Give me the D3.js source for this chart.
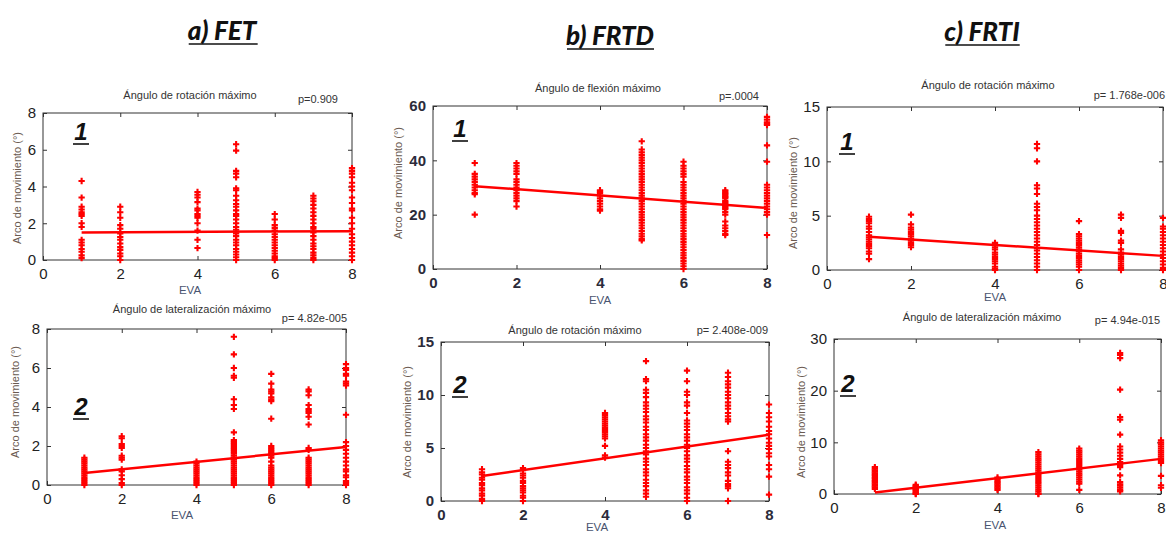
<!DOCTYPE html>
<html>
<head>
<meta charset="utf-8">
<script src="https://cdn.jsdelivr.net/npm/d3@7"></script>
<style>
  body { margin: 0; background: #fff; }
  svg { display: block; }
</style>
</head>
<body>
<svg id="chart" width="1166" height="533"></svg>
<script>
// Pain score levels (EVA) present in the sample
const evaLevels = [1, 2, 4, 5, 6, 7, 8];

// a) FET — maximum rotation angle, one list per EVA level
const fetRotacion = [
  [4.3, 3.4, 2.9, 2.75, 2.6, 2.5, 2.4, 2.0, 1.8, 1.1, 0.95, 0.8, 0.6, 0.45, 0.25, 0.1],
  [2.9, 2.6, 2.3, 1.9, 1.7, 1.45, 1.25, 1.1, 0.9, 0.7, 0.55, 0.35, 0.2, 0],
  [3.7, 3.55, 3.4, 3.15, 2.8, 2.7, 2.5, 2.4, 2.3, 2.0, 1.6, 1.1, 0.65],
  [6.3, 5.95, 4.85, 4.7, 4.5, 3.9, 3.8, 3.5, 3.25, 3.05, 2.9, 2.7, 2.5, 2.4, 2.2, 2.0, 1.8, 1.65, 1.45, 1.3, 1.1, 0.95, 0.8, 0.6, 0.45, 0.3, 0.15, 0],
  [2.5, 2.2, 1.9, 1.75, 1.6, 1.4, 1.25, 1.1, 0.95, 0.8, 0.65, 0.5, 0.35, 0.2, 0.1, 0],
  [3.5, 3.35, 3.2, 3.0, 2.8, 2.6, 2.4, 2.2, 2.0, 1.8, 1.7, 1.5, 1.3, 1.1, 0.9, 0.75, 0.6, 0.4, 0.25, 0.1, 0],
  [5.0, 4.85, 4.7, 4.5, 4.2, 4.0, 3.8, 3.4, 3.1, 2.8, 2.7, 2.3, 2.0, 1.7, 1.4, 1.2, 1.0, 0.8, 0.6, 0.4, 0.2, 0]
];
const fetRotacionFit = [1.50, 1.57];

// a) FET — maximum lateral flexion angle
const fetLateral = [
  [1.4, 1.3, 1.2, 1.1, 1.0, 0.9, 0.8, 0.7, 0.6, 0.5, 0.4, 0.3, 0.2, 0.1, 0],
  [2.5, 2.4, 2.1, 2.0, 1.9, 1.5, 1.4, 1.3, 0.8, 0.7, 0.5, 0.3, 0.1, 0],
  [1.2, 1.1, 1.0, 0.9, 0.8, 0.7, 0.6, 0.5, 0.4, 0.3, 0.2, 0.1, 0],
  [7.6, 6.7, 6.0, 5.6, 5.5, 4.4, 4.1, 3.9, 2.7, 2.3, 2.2, 2.1, 2.0, 1.9, 1.8, 1.7, 1.6, 1.5, 1.4, 1.3, 1.2, 1.1, 1.0, 0.9, 0.8, 0.7, 0.6, 0.5, 0.4, 0.3, 0.2, 0.1, 0],
  [5.7, 5.2, 4.9, 4.8, 4.7, 4.5, 4.4, 4.3, 3.4, 2.0, 1.9, 1.8, 1.7, 1.6, 1.5, 1.4, 1.2, 1.0, 0.9, 0.8, 0.7, 0.6, 0.5, 0.4, 0.3, 0.2, 0.1, 0],
  [4.9, 4.8, 4.6, 4.1, 3.9, 3.8, 3.7, 3.5, 3.1, 1.9, 1.8, 1.4, 1.3, 1.2, 1.1, 1.0, 0.9, 0.8, 0.7, 0.6, 0.5, 0.4, 0.3, 0.2, 0.1, 0],
  [6.2, 6.0, 5.9, 5.7, 5.6, 5.3, 5.2, 5.1, 3.6, 2.2, 2.0, 1.8, 1.6, 1.4, 1.2, 1.0, 0.8, 0.7, 0.5, 0.4, 0.2, 0.1, 0]
];
const fetLateralFit = [0.62, 1.95];

// b) FRTD — maximum flexion angle
const frtdFlexion = [
  [39, 35, 34, 33, 32, 31, 30, 29, 28, 27.5, 20],
  [39, 38, 37, 36, 35, 33, 32, 31, 30, 29, 28, 27, 26, 25, 23],
  [29, 28.5, 28, 27, 26, 25, 24, 23, 22, 21.5],
  [47, 44, 43, 42, 41, 40, 39, 38, 37, 36, 35, 34, 33, 32, 31, 30, 29, 28, 27, 26, 25, 24, 23, 22, 21, 20, 19, 18, 17, 16, 15, 14, 13, 12, 11, 10.5],
  [39.5, 38, 37, 36, 35, 34, 32, 31, 30, 29, 28, 27, 26, 25, 24, 23, 22, 21, 20, 19, 18, 17, 16, 15, 14, 13, 12, 11, 10, 9, 8, 7, 6, 5, 4, 3, 2, 1, 0],
  [29, 28.5, 28, 27.5, 27, 26.5, 26, 25, 24.5, 24, 23.5, 23, 22.5, 22, 21, 20, 17.5, 16, 15, 14, 13, 12.5],
  [56, 55, 54, 53.5, 53, 45.5, 39.5, 31, 30, 29, 28, 27, 26, 25, 24, 23, 22, 21, 20, 12.5]
];
const frtdFlexionFit = [30.5, 22.5];

// b) FRTD — maximum rotation angle
const frtdRotacion = [
  [3.0, 2.7, 2.5, 2.2, 2.0, 1.7, 1.5, 1.2, 1.0, 0.7, 0.5, 0.2, 0],
  [3.1, 2.9, 2.6, 2.4, 2.2, 1.9, 1.7, 1.4, 1.2, 1.0, 0.8, 0.5, 0.3, 0],
  [8.3, 8.1, 7.9, 7.7, 7.5, 7.3, 7.1, 6.9, 6.7, 6.5, 6.3, 6.1, 5.9, 5.2, 4.3, 4.1],
  [13.2, 11.5, 11.3, 10.5, 10.2, 9.8, 9.3, 9.0, 8.7, 8.4, 8.0, 7.7, 7.4, 7.0, 6.7, 6.3, 6.0, 5.7, 5.3, 5.0, 4.7, 4.4, 4.0, 3.7, 3.4, 3.0, 2.7, 2.4, 2.0, 1.7, 1.4, 1.0, 0.7, 0.4],
  [12.3, 11.3, 10.3, 10.0, 9.3, 9.0, 8.3, 7.6, 7.3, 7.0, 6.7, 6.3, 6.0, 5.7, 5.3, 5.0, 4.7, 4.3, 4.0, 3.7, 3.3, 3.0, 2.7, 2.3, 2.0, 1.7, 1.3, 1.0, 0.7, 0.3, 0],
  [12.1, 11.7, 11.3, 11.0, 10.7, 10.3, 10.0, 9.7, 9.3, 9.0, 8.7, 8.3, 8.0, 7.7, 7.5, 4.7, 3.7, 3.4, 3.1, 2.7, 2.4, 1.9, 1.6, 1.4, 1.2, 0],
  [9.1, 8.3, 7.9, 7.5, 7.0, 6.6, 6.3, 5.9, 5.5, 5.2, 4.9, 4.5, 4.2, 3.4, 3.0, 2.3, 0.6]
];
const frtdRotacionFit = [2.35, 6.25];

// c) FRTI — maximum rotation angle
const frtiRotacion = [
  [4.9, 4.7, 4.5, 4.3, 4.0, 3.8, 3.5, 3.2, 3.0, 2.8, 2.6, 2.4, 2.2, 2.0, 1.7, 1.5, 1.0],
  [5.1, 4.2, 3.9, 3.7, 3.5, 3.3, 3.1, 2.9, 2.7, 2.5, 2.3, 2.1],
  [2.5, 2.3, 2.1, 1.9, 1.6, 1.4, 1.2, 1.0, 0.8, 0.6, 0.3, 0.1, 0],
  [11.6, 11.2, 10.0, 7.8, 7.5, 7.0, 6.1, 5.8, 5.5, 5.0, 4.7, 4.4, 4.1, 3.8, 3.5, 3.2, 2.9, 2.6, 2.3, 2.0, 1.8, 1.5, 1.2, 0.9, 0.6, 0.3, 0],
  [4.5, 3.3, 3.1, 2.9, 2.7, 2.5, 2.3, 2.1, 1.9, 1.7, 1.5, 1.3, 1.1, 0.9, 0.7, 0.5, 0.3, 0],
  [5.1, 4.8, 3.6, 3.4, 2.7, 2.5, 1.9, 1.6, 1.4, 1.2, 1.0, 0.8, 0.6, 0.4, 0.2, 0],
  [4.8, 4.0, 3.8, 3.5, 3.2, 2.9, 2.6, 2.3, 2.0, 1.7, 1.4, 1.1, 0.8, 0.5, 0.2, 0]
];
const frtiRotacionFit = [3.05, 1.3];

// c) FRTI — maximum lateral flexion angle
const frtiLateral = [
  [5.2, 4.9, 4.6, 4.3, 4.0, 3.7, 3.4, 3.1, 2.8, 2.5, 2.2, 1.9, 1.6, 1.3, 1.0],
  [1.8, 1.6, 1.4, 1.2, 1.0, 0.8, 0.5, 0.3, 0.1, 0],
  [3.2, 2.9, 2.6, 2.3, 2.0, 1.7, 1.4, 1.1, 0.8],
  [8.1, 7.7, 7.3, 6.9, 6.5, 6.1, 5.7, 5.3, 4.9, 4.5, 4.1, 3.7, 3.3, 2.9, 2.5, 2.1, 1.7, 1.3, 0.9, 0.5, 0.1, 0],
  [8.8, 8.4, 8.0, 7.6, 7.2, 6.8, 6.4, 6.0, 5.6, 5.2, 4.8, 4.4, 4.0, 3.6, 3.2, 2.8, 2.4, 2.0, 0.8],
  [27.3, 26.9, 26.3, 20.2, 14.9, 14.4, 11.5, 9.2, 8.6, 8.0, 7.4, 6.8, 6.2, 5.6, 5.2, 3.6, 2.3, 1.9, 1.6, 1.2, 0.8, 0.5],
  [10.4, 10.0, 9.6, 9.2, 8.8, 8.4, 8.0, 7.6, 7.2, 6.8, 6.4, 6.0, 3.5, 1.7, 1.2]
];
const frtiLateralFit = [0.3, 6.8];

// Shared tick values
const xTickValues = [0, 2, 4, 6, 8];
const yTicksFet = [0, 2, 4, 6, 8];
const yTicksFlexion = [0, 20, 40, 60];
const yTicks15 = [0, 5, 10, 15];
const yTicks30 = [0, 10, 20, 30];

// Group headings and panel texts
const groupHeadings = ["a) FET", "b) FRTD", "c) FRTI"];
const panelTitles = [
  "Ángulo de rotación máximo", "Ángulo de lateralización máximo",
  "Ángulo de flexión máximo", "Ángulo de rotación máximo",
  "Ángulo de rotación máximo", "Ángulo de lateralización máximo"
];
const pLabels = ["p=0.909", "p= 4.82e-005", "p=.0004", "p= 2.408e-009", "p= 1.768e-006", "p= 4.94e-015"];
const panelTags = ["1", "2", "1", "2", "1", "2"];
const xAxisLabel = "EVA";
const yAxisLabel = "Arco de movimiento (°)";

// Panel layout: plot frame, text anchors
const panels = [
  { data: fetRotacion, fit: fetRotacionFit, yMax: 8, yTicks: yTicksFet,
    frame: [43, 352, 113, 260], title: [190, 99], p: [338, 103], xl: [190, 294], yl: [17, 188],
    tag: [81, 140], bold: false },
  { data: fetLateral, fit: fetLateralFit, yMax: 8, yTicks: yTicksFet,
    frame: [47, 346, 329, 485], title: [192, 313], p: [347, 322], xl: [182, 519], yl: [15, 402],
    tag: [81, 415], bold: false },
  { data: frtdFlexion, fit: frtdFlexionFit, yMax: 60, yTicks: yTicksFlexion,
    frame: [433, 767, 106, 269], title: [598, 92], p: [759, 100], xl: [600, 304], yl: [398, 183],
    tag: [460, 137], bold: true },
  { data: frtdRotacion, fit: frtdRotacionFit, yMax: 15, yTicks: yTicks15,
    frame: [441, 769, 342, 501], title: [575, 334], p: [768, 334], xl: [597, 531], yl: [407, 422],
    tag: [460, 393], bold: true },
  { data: frtiRotacion, fit: frtiRotacionFit, yMax: 15, yTicks: yTicks15,
    frame: [827, 1163, 107, 270], title: [988, 89], p: [1165, 99], xl: [995, 301], yl: [793, 193],
    tag: [847, 150], bold: false },
  { data: frtiLateral, fit: frtiLateralFit, yMax: 30, yTicks: yTicks30,
    frame: [834, 1161, 339, 494], title: [982, 321], p: [1160, 324], xl: [995, 529], yl: [801, 422],
    tag: [848, 392], bold: false }
];

const headingPos = [[222, 40], [610, 45], [982, 41]];

const svg = d3.select("#chart");
const RED = "#ff0000";
const FONT = "'Liberation Sans', Arial, sans-serif";
const marker = d3.symbol().type(d3.symbolCross).size(22);

// Group headings (bold italic, underlined)
groupHeadings.forEach((h, i) => {
  const t = svg.append("text")
    .attr("x", headingPos[i][0]).attr("y", headingPos[i][1])
    .attr("text-anchor", "middle")
    .attr("font-family", "Lato, 'Open Sans', sans-serif")
    .attr("font-weight", 900).attr("font-style", "italic")
    .attr("font-size", 26).attr("fill", "#111")
    .text(h);
  const bb = t.node().getBBox();
  svg.append("line")
    .attr("x1", bb.x + 1).attr("x2", bb.x + bb.width)
    .attr("y1", headingPos[i][1] + 4).attr("y2", headingPos[i][1] + 4)
    .attr("stroke", "#111").attr("stroke-width", 1.6);
});

panels.forEach((p, i) => {
  const [x0, x1, y0, y1] = p.frame;
  const x = d3.scaleLinear().domain([0, 8]).range([x0, x1]);
  const y = d3.scaleLinear().domain([0, p.yMax]).range([y1, y0]);
  const g = svg.append("g");

  // Frame box
  g.append("rect")
    .attr("x", x0).attr("y", y0).attr("width", x1 - x0).attr("height", y1 - y0)
    .attr("fill", "none").attr("stroke", "#333").attr("stroke-width", 1);

  const tickFont = p.bold ? 700 : 400;
  const tickColor = p.bold ? "#2b2b3a" : "#222";

  // Bottom axis with inward ticks
  const xAxis = d3.axisBottom(x).tickValues(xTickValues).tickFormat(d3.format("d"))
    .tickSizeInner(-4).tickSizeOuter(0).tickPadding(8);
  const gx = g.append("g").attr("transform", `translate(0,${y1})`).call(xAxis);
  gx.select(".domain").remove();
  gx.selectAll("line").attr("stroke", "#333");
  gx.selectAll("text").attr("font-family", FONT).attr("font-size", 15)
    .attr("font-weight", tickFont).attr("fill", tickColor);

  // Top ticks (no labels)
  const gxt = g.append("g").attr("transform", `translate(0,${y0})`)
    .call(d3.axisTop(x).tickValues(xTickValues).tickSizeInner(-4).tickSizeOuter(0).tickFormat(""));
  gxt.select(".domain").remove();
  gxt.selectAll("line").attr("stroke", "#333");

  // Left axis
  const yAxis = d3.axisLeft(y).tickValues(p.yTicks).tickFormat(d3.format("d"))
    .tickSizeInner(-4).tickSizeOuter(0).tickPadding(7);
  const gy = g.append("g").attr("transform", `translate(${x0},0)`).call(yAxis);
  gy.select(".domain").remove();
  gy.selectAll("line").attr("stroke", "#333");
  gy.selectAll("text").attr("font-family", FONT).attr("font-size", 15)
    .attr("font-weight", tickFont).attr("fill", tickColor);

  // Right ticks
  const gyr = g.append("g").attr("transform", `translate(${x1},0)`)
    .call(d3.axisRight(y).tickValues(p.yTicks).tickSizeInner(-4).tickSizeOuter(0).tickFormat(""));
  gyr.select(".domain").remove();
  gyr.selectAll("line").attr("stroke", "#333");

  // Scatter points, one column per EVA level
  const pts = [];
  p.data.forEach((col, k) => col.forEach(v => pts.push([evaLevels[k], v])));
  g.append("g").selectAll("path").data(pts).join("path")
    .attr("d", marker)
    .attr("transform", d => `translate(${x(d[0])},${y(d[1])})`)
    .attr("fill", RED);

  // Fitted regression line from EVA 1 to 8
  const fitPts = [[evaLevels[0], p.fit[0]], [evaLevels[evaLevels.length - 1], p.fit[1]]];
  g.append("path")
    .attr("d", d3.line().x(d => x(d[0])).y(d => y(d[1]))(fitPts))
    .attr("stroke", RED).attr("stroke-width", 2.5).attr("fill", "none");

  // Titles and p-values
  g.append("text").attr("x", p.title[0]).attr("y", p.title[1])
    .attr("text-anchor", "middle").attr("font-family", FONT).attr("font-size", 11)
    .attr("fill", "#333").text(panelTitles[i]);
  g.append("text").attr("x", p.p[0]).attr("y", p.p[1])
    .attr("text-anchor", "end").attr("font-family", FONT).attr("font-size", 11)
    .attr("fill", "#333").text(pLabels[i]);

  // Axis labels
  g.append("text").attr("x", p.xl[0]).attr("y", p.xl[1])
    .attr("text-anchor", "middle").attr("font-family", FONT).attr("font-size", 11.5)
    .attr("fill", "#4a5570").text(xAxisLabel);
  g.append("text")
    .attr("transform", `translate(${p.yl[0] + 4},${p.yl[1]}) rotate(-90)`)
    .attr("text-anchor", "middle").attr("font-family", FONT).attr("font-size", 11)
    .attr("fill", "#6a5a50").text(yAxisLabel);

  // Panel number tag, bold italic underlined
  g.append("text").attr("x", p.tag[0]).attr("y", p.tag[1])
    .attr("text-anchor", "middle").attr("font-family", FONT)
    .attr("font-weight", 700).attr("font-style", "italic").attr("font-size", 24)
    .attr("fill", "#111").text(panelTags[i]);
  g.append("line")
    .attr("x1", p.tag[0] - 8).attr("x2", p.tag[0] + 8)
    .attr("y1", p.tag[1] + 4).attr("y2", p.tag[1] + 4)
    .attr("stroke", "#111").attr("stroke-width", 1.6);
});
</script>
</body>
</html>
